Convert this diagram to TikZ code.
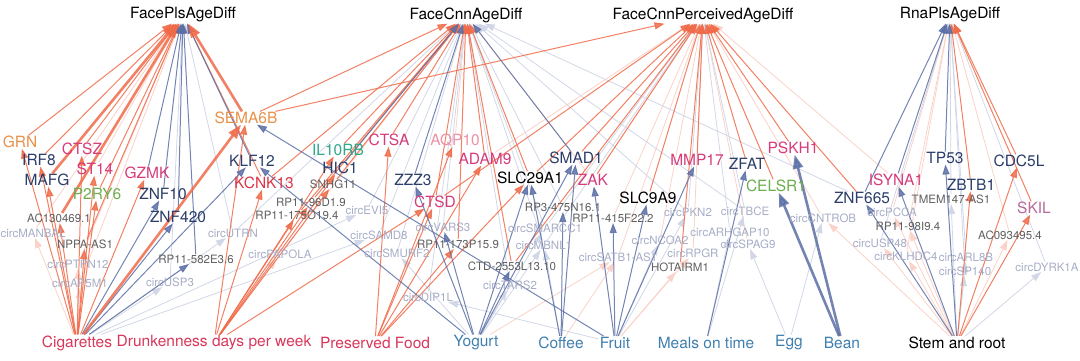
\documentclass[tikz,border=0pt]{standalone}
\usepackage{fontspec}
\setmainfont{TeX Gyre Heros}
\usetikzlibrary{arrows.meta,backgrounds}

\definecolor{PosColor}{HTML}{F06A48}
\definecolor{NegColor}{HTML}{5B6FA6}
\definecolor{ExpoRed}{HTML}{D8365A}
\definecolor{ExpoBlue}{HTML}{3F7FAE}
\definecolor{GeneNavy}{HTML}{2B3D6A}
\definecolor{GenePink}{HTML}{D63C7A}
\definecolor{GeneOrange}{HTML}{E8914A}
\definecolor{GeneGreen}{HTML}{6CAE4E}
\definecolor{GeneTeal}{HTML}{2EA889}
\definecolor{GeneRed}{HTML}{DE3448}
\definecolor{GeneRose}{HTML}{EE90A6}
\definecolor{GeneMauve}{HTML}{B56A98}
\definecolor{MinorGrey}{HTML}{606060}
\definecolor{CircGrey}{HTML}{A7ADC6}

\tikzset{
  bigtext/.style={font=\fontsize{15.5}{17}\selectfont, inner sep=1pt},
  outcome/.style={bigtext, text=black},
  expo/.style={bigtext},
  gene/.style={bigtext, inner sep=0.5pt},
  minor/.style={font=\fontsize{11.5}{13}\selectfont, text=MinorGrey, inner sep=0.5pt},
  circ/.style={minor, text=CircGrey},
  link/.style={-{Triangle[length=10pt,width=7pt]}, line width=1pt},
  posEdge/.style={link, draw=PosColor, opacity=.85},
  posThick/.style={posEdge, line width=2.6pt, -{Triangle[length=14pt,width=10pt]}},
  posLight/.style={link, draw=PosColor!30, line width=.8pt},
  negEdge/.style={link, draw=NegColor, opacity=.85},
  negThick/.style={negEdge, line width=2.6pt, -{Triangle[length=14pt,width=10pt]}},
  negLight/.style={link, draw=NegColor!28, line width=.8pt}
}

\begin{document}
\begin{tikzpicture}[x=1pt,y=-1pt]

  \useasboundingbox (0,0) rectangle (1080,360);

  %-- Outcomes (top) --
  \node[outcome] (fp) at (183,15) {FacePlsAgeDiff};
  \node[outcome] (fc) at (466,15) {FaceCnnAgeDiff};
  \node[outcome] (fq) at (703,15) {FaceCnnPerceivedAgeDiff};
  \node[outcome] (fr) at (950,15) {RnaPlsAgeDiff};

  %-- Exposures (bottom) --
  \node[expo, text=ExpoRed] (cig) at (77,343) {Cigarettes};
  \node[expo, text=ExpoRed] (dru) at (214,343) {Drunkenness days per week};
  \node[expo, text=ExpoRed] (pre) at (375,343) {Preserved Food};
  \node[expo, text=ExpoBlue] (yog) at (476,343) {Yogurt};
  \node[expo, text=ExpoBlue] (cof) at (561,343) {Coffee};
  \node[expo, text=ExpoBlue] (fru) at (615,343) {Fruit};
  \node[expo, text=ExpoBlue] (mea) at (706,343) {Meals on time};
  \node[expo, text=ExpoBlue] (egg) at (789,343) {Egg};
  \node[expo, text=ExpoBlue] (bea) at (842,343) {Bean};
  \node[expo, text=black] (ste) at (957,343) {Stem and root};

  %-- Mediators --
  \node[gene, text=GeneOrange] (grn) at (20,142) {GRN};
  \node[gene, text=GeneNavy] (irf8) at (39,160) {IRF8};
  \node[gene, text=GenePink] (ctsz) at (82,149) {CTSZ};
  \node[gene, text=GeneNavy] (mafg) at (47,180) {MAFG};
  \node[gene, text=GenePink] (st14) at (95,169) {ST14};
  \node[gene, text=GenePink] (gzmk) at (147,173) {GZMK};
  \node[gene, text=GeneGreen] (p2ry6) at (97,194) {P2RY6};
  \node[gene, text=GeneNavy] (znfa) at (163,194) {ZNF10};
  \node[gene, text=GeneNavy] (znfb) at (178,217) {ZNF420};
  \node[minor] (ac13) at (59,218) {AC130469.1};
  \node[circ] (manbal) at (33,233) {circMANBAL};
  \node[minor] (nppa) at (85,244) {NPPA-AS1};
  \node[circ] (ptpn) at (78,264) {circPTPN12};
  \node[minor] (rp582) at (196,259) {RP11-582E3.6};
  \node[circ] (usp3) at (170,282) {circUSP3};
  \node[circ] (ap5m) at (80,283) {circAP5M1};
  \node[gene, text=GeneOrange] (sema) at (246,118) {SEMA6B};
  \node[gene, text=GeneNavy] (klf) at (252,161) {KLF12};
  \node[gene, text=GeneRed] (kcnk) at (264,183) {KCNK13};
  \node[circ] (utrn) at (233,233) {circUTRN};
  \node[gene, text=GeneTeal] (il10) at (338,150) {IL10RB};
  \node[gene, text=GeneNavy] (hic) at (340,168) {HIC1};
  \node[minor] (snhg) at (333,184) {SNHG11};
  \node[minor] (rp96) at (311,202) {RP11-96D1.9};
  \node[minor] (rp175) at (297,215) {RP11-175O19.4};
  \node[circ] (evi) at (367,210) {circEVI5};
  \node[circ] (samd) at (379,235) {circSAMD8};
  \node[circ] (papola) at (280,254) {circPAPOLA};
  \node[circ] (smurf) at (397,253) {circSMURF2};
  \node[gene, text=GenePink] (ctsa) at (389,140) {CTSA};
  \node[gene, text=GeneRose] (aqp) at (455,140) {AQP10};
  \node[gene, text=GenePink] (adam) at (485,159) {ADAM9};
  \node[gene, text=GeneNavy] (zzz) at (413,180) {ZZZ3};
  \node[gene, text=GenePink] (ctsd) at (435,202) {CTSD};
  \node[circ] (vars) at (443,227) {circVARS3};
  \node[minor] (rp173) at (458,244) {RP11-173P15.9};
  \node[minor] (ctd) at (512,266) {CTD-2553L13.10};
  \node[circ] (tars) at (510,285) {circTARS2};
  \node[circ] (dip) at (428,297) {circDIP1L};
  \node[gene, text=black] (slca) at (530,178) {SLC29A1};
  \node[gene, text=GeneNavy] (smad) at (576,158) {SMAD1};
  \node[gene, text=GenePink] (zak) at (593,180) {ZAK};
  \node[minor] (rp3) at (563,207) {RP3-475N16.1};
  \node[minor] (rp415) at (613,218) {RP11-415F22.2};
  \node[circ] (smarcc) at (545,228) {circSMARCC1};
  \node[circ] (mbnl) at (544,245) {circMBNL1};
  \node[circ] (satb) at (618,257) {circSATB1-AS1};
  \node[gene, text=black] (slcb) at (648,198) {SLC9A9};
  \node[circ] (pkn) at (688,212) {circPKN2};
  \node[circ] (ncoa) at (660,240) {circNCOA2};
  \node[circ] (rpgr) at (693,253) {circRPGR};
  \node[minor] (hotair) at (680,267) {HOTAIRM1};
  \node[gene, text=GenePink] (mmp) at (697,160) {MMP17};
  \node[gene, text=GeneNavy] (zfat) at (747,164) {ZFAT};
  \node[gene, text=GenePink] (pskh) at (793,148) {PSKH1};
  \node[gene, text=GeneGreen] (celsr) at (776,186) {CELSR1};
  \node[circ] (tbce) at (745,211) {circTBCE};
  \node[circ] (arhgap) at (730,232) {circARHGAP10};
  \node[circ] (spag) at (748,244) {circSPAG9};
  \node[circ] (cntrob) at (823,218) {circCNTROB};
  \node[gene, text=GeneNavy] (znf665) at (862,198) {ZNF665};
  \node[gene, text=GenePink] (isyna) at (896,180) {ISYNA1};
  \node[gene, text=GeneNavy] (tp53) at (945,158) {TP53};
  \node[gene, text=GeneNavy] (zbtb) at (971,185) {ZBTB1};
  \node[gene, text=GeneNavy] (cdc) at (1019,161) {CDC5L};
  \node[gene, text=GeneMauve] (skil) at (1034,208) {SKIL};
  \node[minor] (tmem) at (951,199) {TMEM147-AS1};
  \node[circ] (pcca) at (892,212) {circPCCA};
  \node[minor] (rp98) at (908,226) {RP11-98I9.4};
  \node[minor] (ac09) at (1010,235) {AC093495.4};
  \node[circ] (usp48) at (880,243) {circUSP48};
  \node[circ] (klhdc) at (906,256) {circKLHDC4};
  \node[circ] (arl) at (966,257) {circARL8B};
  \node[circ] (sp140) at (965,271) {circSP140};
  \node[circ] (dyrk) at (1047,267) {circDYRK1A};

  \begin{pgfonlayer}{background}
    %-- weak links first --
    \foreach \a/\b in {manbal/fp, ptpn/fp, ap5m/fp, st14/fp, papola/fc, aqp/fc,
      zak/fc, rp415/fq, satb/fq, ncoa/fq, rpgr/fq, spag/fq, cntrob/fq, isyna/fq,
      adam/fq, pcca/fr, rp98/fr, ac09/fr, klhdc/fr,
      cig/manbal, cig/ptpn, cig/ap5m, dru/papola, yog/satb, cof/satb,
      fru/hotair, fru/rpgr, ste/pcca, ste/rp98, ste/ac09, ste/usp48,
      ste/klhdc, ste/cntrob}
      \draw[posLight] (\a) -- (\b);
    \foreach \a/\b in {usp3/fp, utrn/fp, evi/fc, samd/fc, smurf/fc, vars/fc,
      tars/fc, dip/fc, rp3/fc, smarcc/fc, mbnl/fc, utrn/fc, pkn/fc, tbce/fc,
      znf665/fc, arhgap/fq, tmem/fr, usp48/fr, arl/fr, sp140/fr, dyrk/fr,
      pkn/fq, mbnl/fq, smarcc/fq, tbce/fq,
      cig/usp3, cig/utrn, cig/evi, cig/samd, yog/tars, yog/smarcc, yog/mbnl,
      yog/smurf, fru/ncoa, fru/dip, mea/arhgap, mea/tbce, egg/spag,
      egg/cntrob, ste/arl, ste/sp140, ste/dyrk, ste/tmem, fru/pkn, cof/mbnl}
      \draw[negLight] (\a) -- (\b);

    %-- main links --
    \foreach \a/\b in {grn/fp, irf8/fp, ctsz/fp, p2ry6/fp, nppa/fp, kcnk/fp,
      sema/fc, kcnk/fc, il10/fc, snhg/fc, rp96/fc, rp175/fc, ctsa/fc, adam/fc,
      ctsd/fc, rp173/fc, ctd/fc, slca/fc, sema/fq, slca/fq, smad/fq, zak/fq,
      slcb/fq, mmp/fq, zfat/fq, celsr/fq, pskh/fq, hotair/fq, znf665/fq,
      ctsd/fq, ctd/fq, zbtb/fr, cdc/fr, skil/fr,
      cig/grn, cig/irf8, cig/mafg, cig/ctsz, cig/st14, cig/p2ry6, cig/gzmk,
      cig/ac13, cig/nppa, dru/kcnk, dru/hic, dru/snhg, dru/rp96, dru/rp175,
      dru/il10, dru/ctsd, dru/sema, pre/ctsa, pre/aqp, pre/adam, pre/ctsd,
      pre/rp173, pre/slca, ste/zbtb, ste/cdc, ste/skil}
      \draw[posEdge] (\a) -- (\b);
    \foreach \a/\b in {gzmk/fp, znfa/fp, znfb/fp, rp582/fp, klf/fp, hic/fc,
      zzz/fc, smad/fc, znf665/fr, isyna/fr, tp53/fr,
      cig/znfa, cig/znfb, cig/rp582, cig/klf, yog/klf, yog/zzz, yog/slca,
      yog/smad, yog/vars, yog/ctd, cof/slca, cof/smad, cof/rp3, fru/sema,
      fru/zak, fru/rp415, fru/slcb, fru/mmp, mea/zfat, ste/znf665,
      ste/isyna, ste/tp53}
      \draw[negEdge] (\a) -- (\b);

    %-- strongest links --
    \foreach \a/\b in {cig/sema, sema/fp, mafg/fp, ac13/fp}
      \draw[posThick] (\a) -- (\b);
    \foreach \a/\b in {bea/celsr, bea/pskh}
      \draw[negThick] (\a) -- (\b);
  \end{pgfonlayer}

\end{tikzpicture}
\end{document}
